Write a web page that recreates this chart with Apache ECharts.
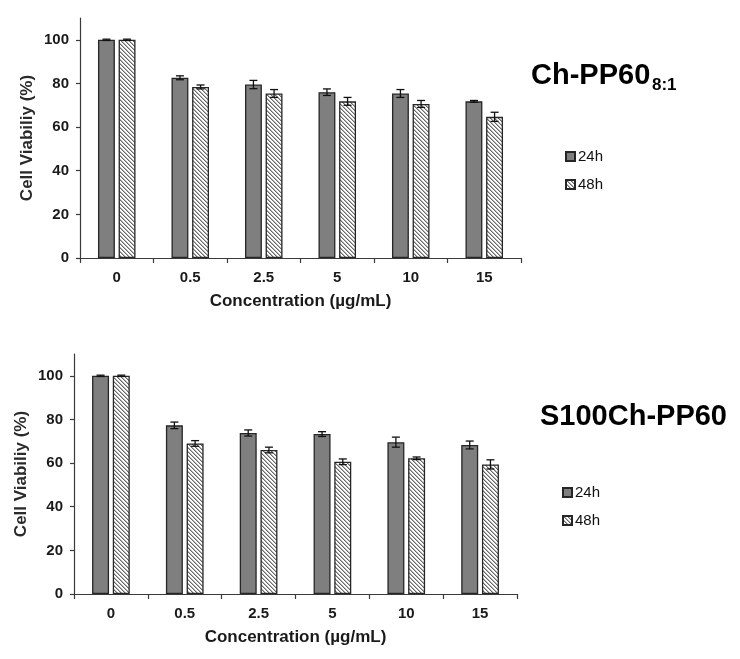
<!DOCTYPE html>
<html><head><meta charset="utf-8">
<script src="https://cdn.jsdelivr.net/npm/echarts@6/dist/echarts.min.js"></script>
<style>html,body{margin:0;padding:0;background:#fff}#c{width:740px;height:659px}</style>
</head><body><div id="c"></div>
<script>
// ---- data ----
const categories = ['0', '0.5', '2.5', '5', '10', '15'];
const seriesNames = ['24h', '48h'];
const yTickValues = [0, 20, 40, 60, 80, 100];
const topTitle = 'Ch-PP60';
const topTitleSub = '8:1';
const bottomTitle = 'S100Ch-PP60';
const xAxisTitle = 'Concentration (µg/mL)';
const yAxisTitle = 'Cell Viabiliy (%)';

const top24 = [100, 82.6, 79.5, 76.0, 75.4, 71.8];
const top24Err = [0.3, 0.9, 1.9, 1.5, 1.8, 0.4];
const top48 = [100, 78.4, 75.4, 71.8, 70.6, 64.7];
const top48Err = [0.3, 0.9, 1.8, 1.8, 1.6, 2.1];

const bot24 = [100, 77.3, 73.8, 73.3, 69.6, 68.3];
const bot24Err = [0.3, 1.5, 1.4, 1.1, 2.3, 1.8];
const bot48 = [100, 69.0, 66.0, 60.6, 62.2, 59.4];
const bot48Err = [0.3, 1.3, 1.3, 1.3, 0.6, 2.1];

// ---- styles ----
const FONT = '"Liberation Sans", Arial, sans-serif';
const BAR_FRAC = 0.23;
const GAP_FRAC = 0.22;

function hatch() {
  const n = 4;
  const cv = document.createElement('canvas');
  cv.width = n; cv.height = n;
  const ctx = cv.getContext('2d');
  ctx.fillStyle = '#ffffff';
  ctx.fillRect(0, 0, n, n);
  for (let x = 0; x < n; x++) {
    for (let y = 0; y < n; y++) {
      const d = ((x - y) % n + n) % n;
      if (d === 0) { ctx.fillStyle = '#6a6a6a'; ctx.fillRect(x, y, 1, 1); }
      else if (d === 1) { ctx.fillStyle = '#b4b4b4'; ctx.fillRect(x, y, 1, 1); }
    }
  }
  return cv;
}
const hatchPattern = { image: hatch(), repeat: 'repeat' };

const style24 = { color: '#7f7f7f', borderColor: '#262626', borderWidth: 1.3 };
const style48 = { color: hatchPattern, borderColor: '#262626', borderWidth: 1.3 };

function xAxisCfg(gi) {
  return {
    type: 'category', gridIndex: gi, data: categories, boundaryGap: true,
    axisLine: { show: true, lineStyle: { color: '#3a3a3a', width: 1.2 } },
    axisTick: { show: true, inside: false, length: 5, lineStyle: { color: '#3a3a3a', width: 1.2 } },
    axisLabel: { fontFamily: FONT, fontSize: 15, fontWeight: 'bold', color: '#1a1a1a', margin: 12 },
    splitLine: { show: false },
    name: xAxisTitle, nameLocation: 'middle', nameGap: 35, nameMoveOverlap: false,
    nameTextStyle: { fontFamily: FONT, fontSize: 17, fontWeight: 'bold', color: '#1a1a1a' }
  };
}
function yAxisCfg(gi) {
  return {
    type: 'value', gridIndex: gi, min: 0, max: 110, interval: 20,
    axisLine: { show: true, lineStyle: { color: '#3a3a3a', width: 1.2 } },
    axisTick: { show: true, inside: false, length: 4, customValues: yTickValues, lineStyle: { color: '#3a3a3a', width: 1.2 } },
    axisLabel: { fontFamily: FONT, fontSize: 15, fontWeight: 'bold', color: '#1a1a1a', margin: 11, customValues: yTickValues },
    splitLine: { show: false },
    name: yAxisTitle, nameLocation: 'middle', nameGap: 44, nameMoveOverlap: false,
    nameTextStyle: { fontFamily: FONT, fontSize: 17, fontWeight: 'bold', color: '#2a2a2a' }
  };
}
function barSeries(name, vals, gi, st) {
  return {
    name: name, type: 'bar', xAxisIndex: gi, yAxisIndex: gi, data: vals,
    barWidth: (BAR_FRAC * 100) + '%', barGap: (GAP_FRAC * 100) + '%',
    itemStyle: st, emphasis: { disabled: true }, animation: false
  };
}
function errSeries(vals, errs, gi, side) {
  return {
    type: 'custom', xAxisIndex: gi, yAxisIndex: gi, z: 10, animation: false, silent: true,
    data: vals.map((v, i) => [i, v - errs[i], v + errs[i]]),
    renderItem(params, api) {
      const band = api.size([1, 0])[0];
      const bw = band * BAR_FRAC;
      const off = side * bw * (1 + GAP_FRAC) / 2;
      const lo = api.coord([api.value(0), api.value(1)]);
      const hi = api.coord([api.value(0), api.value(2)]);
      const x = lo[0] + off;
      const cw = 4;
      const s = { stroke: '#111', lineWidth: 1.3 };
      return { type: 'group', children: [
        { type: 'line', shape: { x1: x, y1: hi[1], x2: x, y2: lo[1] }, style: s },
        { type: 'line', shape: { x1: x - cw, y1: hi[1], x2: x + cw, y2: hi[1] }, style: s },
        { type: 'line', shape: { x1: x - cw, y1: lo[1], x2: x + cw, y2: lo[1] }, style: s }
      ] };
    }
  };
}
function legendCfg(left, top) {
  return {
    orient: 'vertical', left: left, top: top, data: seriesNames,
    icon: 'rect', itemWidth: 9, itemHeight: 9, itemGap: 13,
    textStyle: { fontFamily: FONT, fontSize: 15, color: '#111', padding: [0, 0, 0, -2] },
    selectedMode: false
  };
}

const chart = echarts.init(document.getElementById('c'), null, { renderer: 'canvas' });
chart.setOption({
  backgroundColor: '#ffffff',
  textStyle: { fontFamily: FONT },
  animation: false,
  grid: [
    { left: 80, top: 18, width: 441, height: 240, outerBoundsMode: 'none', containLabel: false },
    { left: 74, top: 354, width: 443, height: 240, outerBoundsMode: 'none', containLabel: false }
  ],
  xAxis: [xAxisCfg(0), xAxisCfg(1)],
  yAxis: [yAxisCfg(0), yAxisCfg(1)],
  legend: [legendCfg(560, 144), legendCfg(557, 480)],
  series: [
    barSeries(seriesNames[0], top24, 0, style24),
    barSeries(seriesNames[1], top48, 0, style48),
    errSeries(top24, top24Err, 0, -1),
    errSeries(top48, top48Err, 0, 1),
    barSeries(seriesNames[0], bot24, 1, style24),
    barSeries(seriesNames[1], bot48, 1, style48),
    errSeries(bot24, bot24Err, 1, -1),
    errSeries(bot48, bot48Err, 1, 1)
  ],
  graphic: [
    { type: 'text', x: 531, y: 76, style: { text: topTitle, fontFamily: FONT, fontSize: 29, fontWeight: 'bold', fill: '#000', verticalAlign: 'middle' } },
    { type: 'text', x: 652, y: 85, style: { text: topTitleSub, fontFamily: FONT, fontSize: 17, fontWeight: 'bold', fill: '#000', verticalAlign: 'middle' } },
    { type: 'text', x: 540, y: 417, style: { text: bottomTitle, fontFamily: FONT, fontSize: 29, fontWeight: 'bold', fill: '#000', verticalAlign: 'middle' } }
  ]
});
</script></body></html>
